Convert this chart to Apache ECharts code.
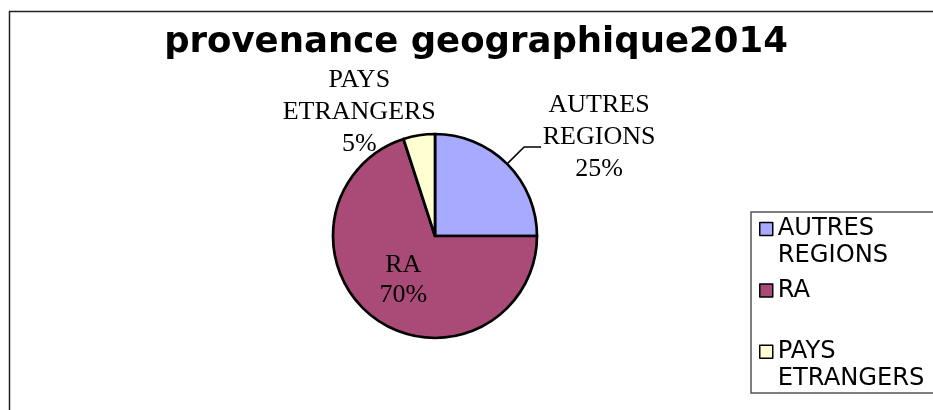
<!DOCTYPE html>
<html>
<head>
<meta charset="utf-8">
<script src="https://cdn.jsdelivr.net/npm/echarts@6/dist/echarts.min.js"></script>
<style>
	html, body { margin: 0; padding: 0; background: #fff; }
	#chart { width: 933px; height: 410px; }
</style>
</head>
<body>
<div id="chart"></div>
<script>
	// données
	var titre = 'provenance geographique2014';
	var categories = ['AUTRES REGIONS', 'RA', 'PAYS ETRANGERS'];
	var valeurs = [25, 70, 5];
	var couleurs = ['#a8aaff', '#a94a77', '#ffffd2'];

	var serif = "'Liberation Serif', 'Times New Roman', serif";
	var sans = "'DejaVu Sans', Verdana, sans-serif";

	// étiquette centrée ligne par ligne
	function etiquette(nom, pct) {
		var lignes = nom.split(' ').concat([pct + '%']);
		return lignes.map(function (l) { return '{t|' + l + '}'; }).join('\n');
	}

	var data = categories.map(function (nom, i) {
		var item = { name: nom, value: valeurs[i], itemStyle: { color: couleurs[i] } };
		if (nom === 'RA') {
			item.label = { position: 'inside', lineHeight: 30, formatter: '{b}\n{d}%' };
			item.labelLine = { show: false };
		} else if (nom === 'PAYS ETRANGERS') {
			item.label = {
				formatter: function (p) { return etiquette(p.name, Math.round(p.percent)); },
				rich: { t: { width: 156, align: 'center', fontFamily: serif, fontSize: 26, lineHeight: 32 } }
			};
			item.labelLine = { show: false, length: 5, length2: 0 };
		} else {
			item.label = {
				formatter: function (p) { return etiquette(p.name, Math.round(p.percent)); },
				padding: [0, 0, 20, 0],
				rich: { t: { width: 116, align: 'center', fontFamily: serif, fontSize: 26, lineHeight: 32 } }
			};
		}
		return item;
	});

	var myChart = echarts.init(document.getElementById('chart'));
	var option = {
		backgroundColor: '#fff',
		animation: false,
		title: {
			text: titre,
			left: 471,
			top: 20,
			textAlign: 'center',
			textStyle: { fontFamily: sans, fontWeight: 'bold', fontSize: 35.5, color: '#000' }
		},
		graphic: [{
			// cadre du graphique
			type: 'rect',
			shape: { x: 9.5, y: 11.5, width: 1000, height: 500 },
			style: { fill: 'none', stroke: '#222', lineWidth: 1.5 }
		}, {
			// cadre de la légende
			type: 'rect',
			shape: { x: 751, y: 212, width: 300, height: 181 },
			style: { fill: 'none', stroke: '#555', lineWidth: 1.5 }
		}],
		legend: {
			orient: 'vertical',
			left: 759,
			top: 189,
			padding: 0,
			itemGap: -18.7,
			itemWidth: 13,
			itemHeight: 13,
			itemTextGap: 6,
			icon: 'rect',
			itemStyle: { borderColor: '#000', borderWidth: 1.5 },
			// icône alignée sur la première ligne : ligne vide au-dessus
			formatter: function (name) {
				var l = name.split(' ');
				while (l.length < 2) l.push(' ');
				return ' \n' + l.join('\n');
			},
			textStyle: { fontFamily: sans, fontSize: 24.2, lineHeight: 26.7, color: '#000' },
			data: categories
		},
		series: [{
			type: 'pie',
			center: [435, 236],
			radius: 102,
			startAngle: 90,
			clockwise: true,
			avoidLabelOverlap: false,
			itemStyle: { borderColor: '#000', borderWidth: 2.7 },
			label: {
				position: 'outside',
				color: '#000',
				fontFamily: serif,
				fontSize: 26,
				distanceToLabelLine: 0
			},
			labelLine: {
				show: true,
				length: 24,
				length2: 17,
				lineStyle: { color: '#000', width: 1.5 }
			},
			labelLayout: function (p) {
				if (p.dataIndex === 2) return { dx: 19, dy: -18 };
			},
			emphasis: { disabled: true },
			data: data
		}]
	};
	myChart.setOption(option);
</script>
</body>
</html>
